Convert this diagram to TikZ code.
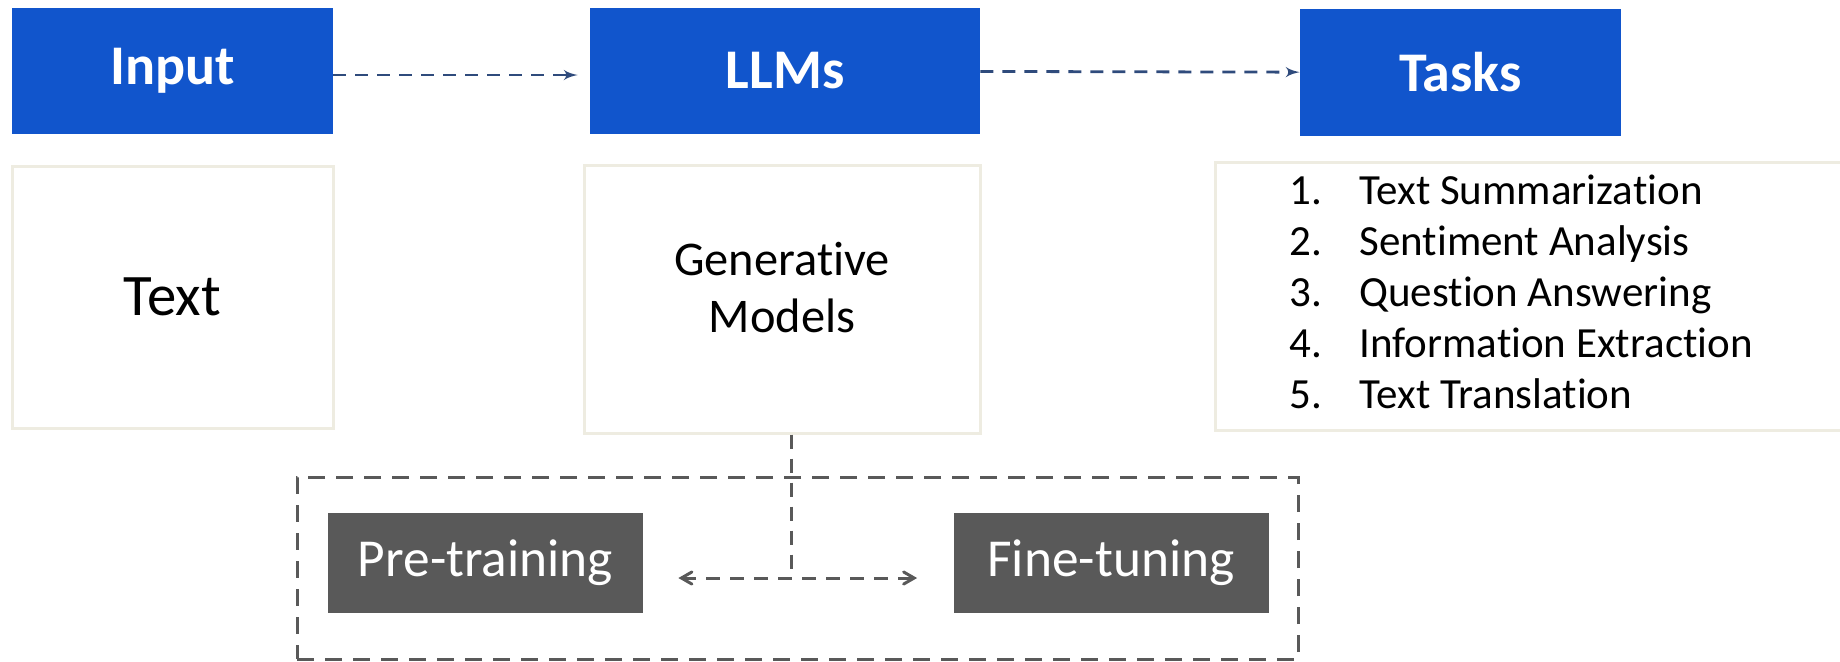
\documentclass[tikz,border=0pt]{standalone}
\usepackage{fontspec}
\setmainfont[Ligatures=NoCommon]{Carlito}
\usetikzlibrary{arrows}
\definecolor{hdblue}{HTML}{1155CC}
\definecolor{boxline}{HTML}{EEECE1}
\definecolor{arrblue}{HTML}{2F4B7C}
\definecolor{phgray}{HTML}{595959}

\begin{document}
\begin{tikzpicture}
		[x=0.5pt,y=-0.5pt,
		head/.style={rectangle,fill=hdblue,text=white,inner sep=0pt,minimum height=63pt,font=\fontsize{28}{33}\selectfont\bfseries},
		body/.style={rectangle,draw=boxline,line width=1.5pt,fill=white,inner sep=0pt},
		item/.style={anchor=base west,inner sep=0pt,font=\fontsize{21.5}{25}\selectfont},
		phase/.style={rectangle,fill=phgray,text=white,inner sep=0pt,minimum width=157.5pt,minimum height=50pt,font=\fontsize{26.7}{32}\selectfont},
		frame/.style={rectangle,draw=phgray,line width=1.5pt,dash pattern=on 8.5pt off 5.5pt,minimum width=500.5pt,minimum height=91pt},
		flow/.style={->,>=latex',draw=arrblue,line width=1.4pt,dash pattern=on 6.5pt off 4.5pt},
		link/.style={draw=phgray,line width=1.5pt,dash pattern=on 7pt off 5pt}]
		\useasboundingbox (0,0) rectangle (1840,661);
		
		\node[head,minimum width=160.5pt] (inp) at (172.5,71) {Input};
		\node[head,minimum width=195pt] (llm) at (785,71) {LLMs};
		\node[head,minimum width=160.5pt,minimum height=63.5pt] (tsk) at (1460.5,72.5) {Tasks};
		
		\node[body,minimum width=160.5pt,minimum height=131pt,font=\fontsize{29.4}{35}\selectfont] (txt) at (172.5,297) {Text};
		\node[body,minimum width=198pt,minimum height=134pt,
			label={[align=center,yshift=5.5pt,font=\fontsize{24.2}{28.5}\selectfont]center:Generative\\Models}] (gen) at (782,299) {};
		\node[body,minimum width=313.5pt,minimum height=134pt] (lst) at (1528.5,296) {};
		
		\foreach \i/\task in {1/Text Summarization,2/Sentiment Analysis,3/Question Answering,4/Information Extraction,5/Text Translation}
		\node[item] (t\i) at (1289,153+51*\i) {\makebox[35pt][l]{\i.}\task};
		
		\node[frame] (grp) at (797.5,568) {};
		\node[phase] (pre) at (485.5,563) {Pre-training};
		\node[phase] (fin) at (1111,563) {Fine-tuning};
		\coordinate (jn) at (791,578);
		
		\draw[flow,shorten >=6pt] ([yshift=-2pt]inp.east) -- ([yshift=-2pt]llm.west);
		\draw[flow] (llm) -- (tsk);
		\draw[link] ([xshift=4.5pt]gen.south) -- (jn);
		\draw[link,<->,>=angle 60,shorten <=17.5pt,shorten >=18pt] ([yshift=-7.5pt]pre.east) -- ([yshift=-7.5pt]fin.west);
		\end{tikzpicture}
\end{document}
